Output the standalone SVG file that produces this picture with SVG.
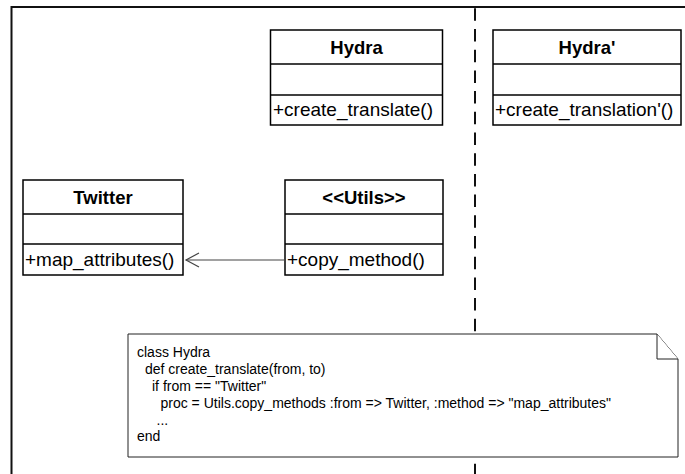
<svg xmlns="http://www.w3.org/2000/svg" width="685" height="474" viewBox="0 0 685 474">
<style>
.box{fill:#fff;stroke:#000;stroke-width:1.5}
.title{font-family:"Liberation Sans",Arial,sans-serif;font-size:18.5px;font-weight:bold;text-anchor:middle;fill:#000}
.meth{font-family:"Liberation Sans",Arial,sans-serif;font-size:19px;fill:#000}
.note{fill:#fff;stroke:#222;stroke-width:1}
.code{font-family:"Liberation Sans",Arial,sans-serif;font-size:14px;fill:#000}
</style>
<rect x="0" y="0" width="685" height="474" fill="#fff"/>
<g id="frame">
<path d="M11.5 474 V7 H685" fill="none" stroke="#111" stroke-width="2"/>
</g>
<g id="divider">
<line x1="475" y1="8.3" x2="475" y2="474" stroke="#111" stroke-width="2" stroke-dasharray="12.5 8.2"/>
</g>
<g id="hydra">
<rect class="box" x="270.5" y="30" width="172" height="95"/>
<line class="box" x1="270.5" y1="64" x2="442.5" y2="64"/>
<line class="box" x1="270.5" y1="95" x2="442.5" y2="95"/>
<text class="title" x="356.5" y="54">Hydra</text>
<text class="meth" x="273" y="116">+create_translate()</text>
</g>
<g id="hydra-prime">
<rect class="box" x="493" y="30" width="188" height="95"/>
<line class="box" x1="493" y1="64" x2="681" y2="64"/>
<line class="box" x1="493" y1="95" x2="681" y2="95"/>
<text class="title" x="587" y="54">Hydra'</text>
<text class="meth" x="495" y="116">+create_translation'()</text>
</g>
<g id="twitter">
<rect class="box" x="23" y="180" width="160" height="95"/>
<line class="box" x1="23" y1="214" x2="183" y2="214"/>
<line class="box" x1="23" y1="244" x2="183" y2="244"/>
<text class="title" x="103" y="204">Twitter</text>
<text class="meth" x="25" y="266">+map_attributes()</text>
</g>
<g id="utils">
<rect class="box" x="285" y="180" width="158" height="95"/>
<line class="box" x1="285" y1="214" x2="443" y2="214"/>
<line class="box" x1="285" y1="244" x2="443" y2="244"/>
<text class="title" x="364" y="204">&lt;&lt;Utils&gt;&gt;</text>
<text class="meth" x="287" y="266">+copy_method()</text>
</g>
<g id="connectors">
<line x1="285" y1="260" x2="186" y2="260" stroke="#444" stroke-width="1.2"/>
<path d="M199 253 L186 260 L199 267" fill="none" stroke="#444" stroke-width="1.2"/>
</g>
<g id="code-note">
<path class="note" d="M128 334 H657 L678 359 V457 H128 Z"/>
<path class="note" d="M657 334 V359 H678" fill="none"/>
<text class="code" x="137" y="357">class Hydra</text>
<text class="code" x="145" y="374">def create_translate(from, to)</text>
<text class="code" x="152" y="391">if from == "Twitter"</text>
<text class="code" x="160.5" y="408">proc = Utils.copy_methods :from =&gt; Twitter, :method =&gt; "map_attributes"</text>
<text class="code" x="156.5" y="425">...</text>
<text class="code" x="137" y="441">end</text>
</g>
</svg>
